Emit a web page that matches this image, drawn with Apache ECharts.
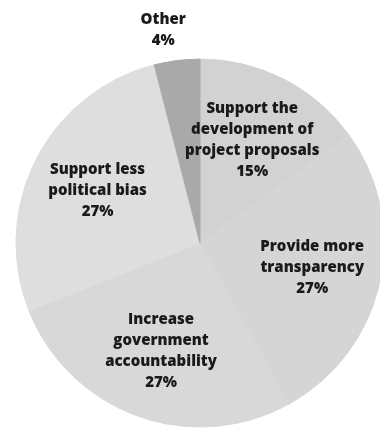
<!DOCTYPE html>
<html>
<head>
<meta charset="utf-8">
<script src="https://cdn.jsdelivr.net/npm/echarts@6/dist/echarts.min.js"></script>
<style>
    html, body { margin: 0; padding: 0; background: #fff; }
    #pieChart { width: 380px; height: 432px; }
</style>
</head>
<body>
<div id="pieChart"></div>
<script>
    // slice names, clockwise from 12 o'clock
    var sliceNames = [
        'Support the\ndevelopment of\nproject proposals',
        'Provide more\ntransparency',
        'Increase\ngovernment\naccountability',
        'Support less\npolitical bias',
        'Other'
    ];
    var sliceValues = [15, 27, 27, 27, 4];
    var sliceColors = ['#d2d2d2', '#d5d5d5', '#d8d8d8', '#dedede', '#a9a9a9'];

    var FONT = '"Open Sans"';

    //饼图数据
    var pieData = [], labelData = [];
    for (var i = 0; i < sliceNames.length; i++) {
        var isOther = sliceNames[i] == 'Other';
        pieData.push({
            name: sliceNames[i],
            value: sliceValues[i],
            // border in the fill colour hides the white seams between slices
            itemStyle: { color: sliceColors[i], borderColor: sliceColors[i], borderWidth: 1 },
            label: { show: isOther },
            labelLine: { show: false }
        });
        labelData.push({
            name: sliceNames[i],
            value: sliceValues[i],
            label: { show: !isOther }
        });
    }

    var textStyle = {
        formatter: '{b}\n{d}%',
        color: '#1a1a1a',
        fontFamily: FONT,
        fontWeight: 800,
        fontSize: 15,
        lineHeight: 21
    };

    var chart = echarts.init(document.getElementById('pieChart'));
    chart.setOption({
        animation: false,
        series: [{
            name: 'share',
            type: 'pie',
            center: [200, 243],
            radius: [0, 184],
            startAngle: 90,
            clockwise: true,
            silent: true,
            data: pieData,
            label: echarts.util.extend({ position: 'outside' }, textStyle),
            labelLine: { length: 30, length2: 0 },
            labelLayout: function(p){
                return { align: 'center', dx: -5 };
            }
        }, {
            // label-only ring so the text sits further out than half radius
            name: 'labels',
            type: 'pie',
            center: [200, 243],
            radius: [40, 184],
            startAngle: 90,
            clockwise: true,
            silent: true,
            data: labelData,
            itemStyle: { color: 'rgba(0,0,0,0)', borderColor: 'rgba(0,0,0,0)', borderWidth: 0 },
            label: echarts.util.extend({ position: 'inside' }, textStyle),
            labelLine: { show: false }
        }]
    });
</script>
</body>
</html>
